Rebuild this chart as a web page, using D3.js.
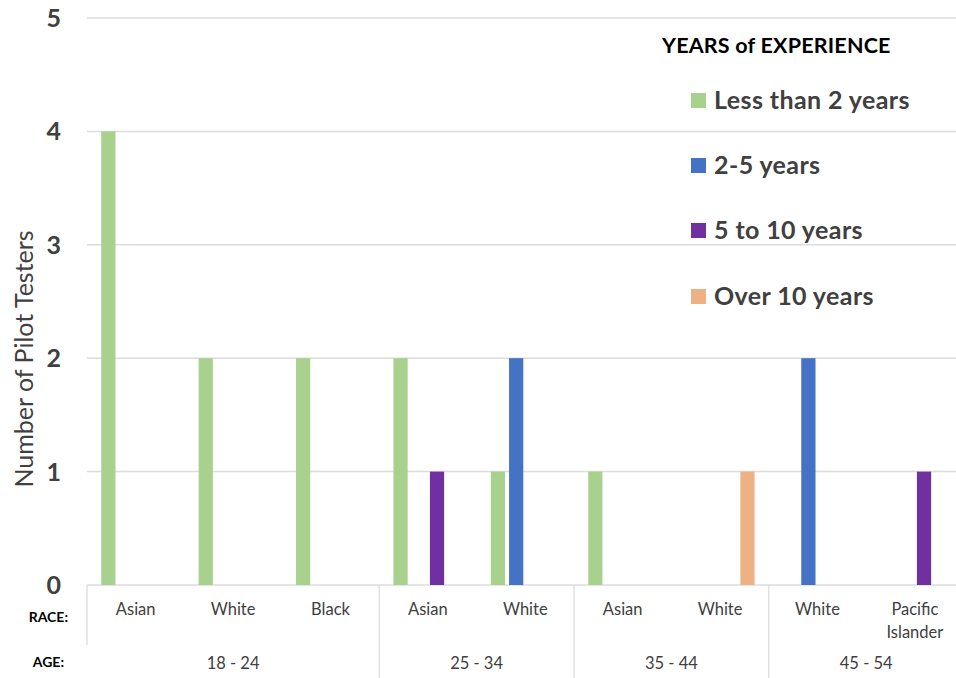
<!DOCTYPE html>
<html>
<head>
<meta charset="utf-8">
<script src="https://cdn.jsdelivr.net/npm/d3@7"></script>
<style>
  body { margin: 0; background: #fff; }
  svg { display: block; font-family: Lato, "Open Sans", sans-serif; }
</style>
</head>
<body>
<svg id="chart" width="956" height="678"></svg>
<script>
var races = ["Asian", "White", "Black", "Asian", "White", "Asian", "White", "White", "Pacific Islander"];
var ages = ["18 - 24", "25 - 34", "35 - 44", "45 - 54"];
var ageCounts = [3, 2, 2, 2];
var seriesNames = ["Less than 2 years", "2-5 years", "5 to 10 years", "Over 10 years"];
var seriesColors = ["#A9D18E", "#4472C4", "#7030A0", "#EDB183"];
var lessThan2 = [4, 2, 2, 2, 1, 1, 0, 0, 0];
var twoToFive = [0, 0, 0, 0, 2, 0, 0, 2, 0];
var fiveToTen = [0, 0, 0, 1, 0, 0, 0, 0, 1];
var over10 = [0, 0, 0, 0, 0, 0, 1, 0, 0];
var yTicks = [0, 1, 2, 3, 4, 5];

var series = [lessThan2, twoToFive, fiveToTen, over10];

var svg = d3.select("svg#chart"),
    width = +svg.attr("width"),
    height = +svg.attr("height");

var plotLeft = 87, plotTop = 18, plotBottom = 585;

var x0 = d3.scaleBand()
    .domain(d3.range(races.length))
    .range([plotLeft, plotLeft + 9 * 97.4]);

var x1 = d3.scaleBand()
    .domain(d3.range(series.length))
    .range([0, x0.bandwidth()])
    .paddingInner(0.22)
    .paddingOuter(0.78);

var y = d3.scaleLinear().domain([0, 5]).range([plotBottom, plotTop]);

// gridlines
svg.append("g").selectAll("line")
  .data(yTicks)
  .enter().append("line")
    .attr("x1", plotLeft).attr("x2", width)
    .attr("y1", function(d) { return y(d); })
    .attr("y2", function(d) { return y(d); })
    .attr("stroke", "#dcdcdc")
    .attr("stroke-width", 1.5);

// y tick labels
svg.append("g").selectAll("text")
  .data(yTicks)
  .enter().append("text")
    .attr("x", 61)
    .attr("y", function(d) { return y(d); })
    .attr("dy", "0.36em")
    .attr("text-anchor", "end")
    .attr("font-size", 25)
    .attr("font-weight", "bold")
    .attr("fill", "#404040")
    .text(function(d) { return d; });

// y axis title
svg.append("text")
  .attr("transform", "translate(33," + 359 + ") rotate(-90)")
  .attr("text-anchor", "middle")
  .attr("font-size", 25)
  .attr("fill", "#404040")
  .text("Number of Pilot Testers");

// bars
var groups = svg.append("g").selectAll("g")
  .data(series)
  .enter().append("g")
    .attr("fill", function(d, i) { return seriesColors[i]; });

groups.each(function(vals, si) {
  d3.select(this).selectAll("rect")
    .data(vals.map(function(v, ci) { return {v: v, ci: ci}; }).filter(function(d) { return d.v > 0; }))
    .enter().append("rect")
      .attr("x", function(d) { return x0(d.ci) + x1(si); })
      .attr("width", x1.bandwidth())
      .attr("y", function(d) { return y(d.v); })
      .attr("height", function(d) { return y(0) - y(d.v); });
});

// category axis: separators
var ageStarts = [];
var acc = 0;
ageCounts.forEach(function(c) { ageStarts.push(acc); acc += c; });

svg.append("line")
  .attr("x1", plotLeft).attr("x2", plotLeft)
  .attr("y1", plotBottom).attr("y2", 645)
  .attr("stroke", "#d9d9d9").attr("stroke-width", 1.2);

svg.append("g").selectAll("line")
  .data(ageStarts.slice(1))
  .enter().append("line")
    .attr("x1", function(d) { return x0(d); })
    .attr("x2", function(d) { return x0(d); })
    .attr("y1", plotBottom).attr("y2", height)
    .attr("stroke", "#d9d9d9").attr("stroke-width", 1.2);

// race labels
var raceText = svg.append("g").selectAll("text")
  .data(races)
  .enter().append("text")
    .attr("x", function(d, i) { return x0(i) + x0.bandwidth() / 2; })
    .attr("y", 609)
    .attr("text-anchor", "middle")
    .attr("font-size", 16.5)
    .attr("fill", "#404040");

raceText.each(function(d) {
  var words = d.split(" ");
  var t = d3.select(this);
  var cx = t.attr("x");
  words.forEach(function(w, k) {
    t.append("tspan").attr("x", cx).attr("dy", k === 0 ? "0.35em" : 23).text(w);
  });
});

// age labels
svg.append("g").selectAll("text")
  .data(ages)
  .enter().append("text")
    .attr("x", function(d, i) {
      var a = x0(ageStarts[i]);
      var b = x0(ageStarts[i] + ageCounts[i] - 1) + x0.bandwidth();
      return (a + b) / 2;
    })
    .attr("y", 663)
    .attr("dy", "0.35em")
    .attr("text-anchor", "middle")
    .attr("font-size", 16.5)
    .attr("fill", "#404040")
    .text(function(d) { return d; });

svg.append("text")
  .attr("x", 68).attr("y", 617).attr("dy", "0.35em")
  .attr("text-anchor", "end")
  .attr("font-size", 14).attr("font-weight", "bold").attr("fill", "#000")
  .text("RACE:");

svg.append("text")
  .attr("x", 64).attr("y", 662).attr("dy", "0.35em")
  .attr("text-anchor", "end")
  .attr("font-size", 14).attr("font-weight", "bold").attr("fill", "#000")
  .text("AGE:");

// legend
svg.append("text")
  .attr("x", 662).attr("y", 45).attr("dy", "0.35em")
  .attr("font-size", 21.5).attr("font-weight", "bold").attr("fill", "#000")
  .attr("letter-spacing", 0.2)
  .text("YEARS of EXPERIENCE");

var legendY = [100, 165, 230, 296];
var legend = svg.append("g").selectAll("g")
  .data(seriesNames)
  .enter().append("g")
    .attr("transform", function(d, i) { return "translate(691," + legendY[i] + ")"; });

legend.append("rect")
  .attr("x", 0).attr("y", -7)
  .attr("width", 15).attr("height", 15)
  .attr("fill", function(d, i) { return seriesColors[i]; });

legend.append("text")
  .attr("x", 23).attr("dy", "0.35em")
  .attr("font-size", 25).attr("font-weight", "bold").attr("fill", "#404040")
  .attr("letter-spacing", 0.4)
  .text(function(d) { return d; });
</script>
</body>
</html>
